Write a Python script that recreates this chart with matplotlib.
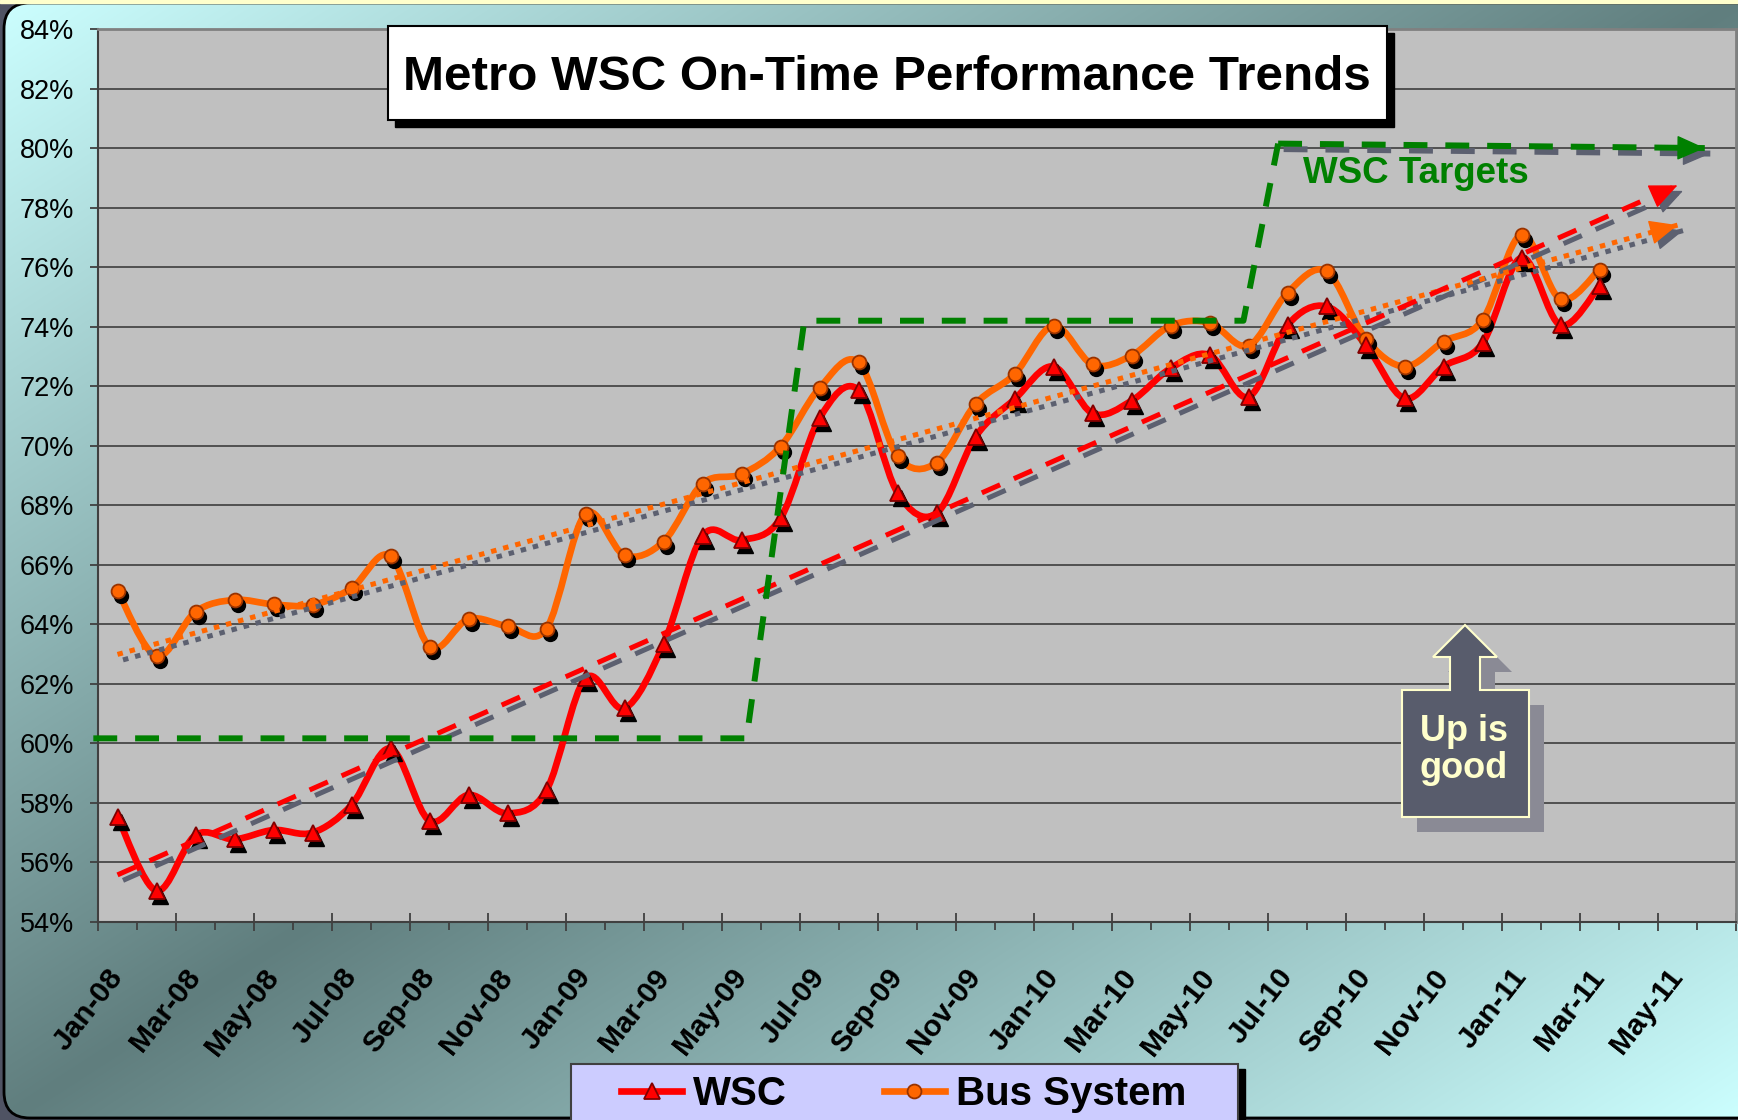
import numpy as np
import matplotlib
matplotlib.use("Agg")
import matplotlib.pyplot as plt
from matplotlib.path import Path
from matplotlib.patches import PathPatch, FancyBboxPatch, Rectangle, Polygon, FancyArrowPatch
from matplotlib.lines import Line2D
from matplotlib.transforms import offset_copy
from matplotlib.font_manager import FontProperties, fontManager

# ---------------- data ----------------
months = ["Jan-08", "Feb-08", "Mar-08", "Apr-08", "May-08", "Jun-08", "Jul-08", "Aug-08",
          "Sep-08", "Oct-08", "Nov-08", "Dec-08",
          "Jan-09", "Feb-09", "Mar-09", "Apr-09", "May-09", "Jun-09", "Jul-09", "Aug-09",
          "Sep-09", "Oct-09", "Nov-09", "Dec-09",
          "Jan-10", "Feb-10", "Mar-10", "Apr-10", "May-10", "Jun-10", "Jul-10", "Aug-10",
          "Sep-10", "Oct-10", "Nov-10", "Dec-10",
          "Jan-11", "Feb-11", "Mar-11"]
wsc = [57.54, 55.05, 56.92, 56.78, 57.09, 57.00, 57.93, 59.83, 57.40, 58.27, 57.65, 58.43,
       62.19, 61.18, 63.33, 66.97, 66.83, 67.56, 70.92, 71.87, 68.42, 67.73, 70.30, 71.56,
       72.66, 71.09, 71.51, 72.60, 73.05, 71.64, 74.05, 74.68, 73.40, 71.59, 72.66, 73.44,
       76.32, 74.05, 75.36]
bus = [65.13, 62.93, 64.42, 64.82, 64.67, 64.65, 65.21, 66.29, 63.25, 64.18, 63.94, 63.86,
       67.71, 66.32, 66.78, 68.73, 69.05, 69.97, 71.94, 72.80, 69.65, 69.43, 71.40, 72.40,
       74.03, 72.73, 73.03, 74.03, 74.13, 73.36, 75.14, 75.86, 73.60, 72.66, 73.50, 74.22,
       77.09, 74.92, 75.92]
axis_labels = ["Jan-08", "Mar-08", "May-08", "Jul-08", "Sep-08", "Nov-08",
               "Jan-09", "Mar-09", "May-09", "Jul-09", "Sep-09", "Nov-09",
               "Jan-10", "Mar-10", "May-10", "Jul-10", "Sep-10", "Nov-10",
               "Jan-11", "Mar-11", "May-11"]
n_categories = 42
y_ticks = [54, 56, 58, 60, 62, 64, 66, 68, 70, 72, 74, 76, 78, 80, 82, 84]
# WSC target step line (category position, percent)
target_x = [-0.12, 16.63, 18.11, 29.37, 30.26, 41.2]
target_y = [60.17, 60.17, 74.20, 74.20, 80.15, 80.00]
forecast_periods = 2
series_names = ["WSC", "Bus System"]
title = "Metro WSC On-Time Performance Trends"

# ---------------- figure ----------------
W, H = 1738, 1120
fig = plt.figure(figsize=(W / 100, H / 100), dpi=100)
fig.patch.set_facecolor("#4F5363")
renderer = fig.canvas.get_renderer()

avail = {f.name for f in fontManager.ttflist}
def pick(*names):
    for n in names:
        if n in avail:
            return n
    return "DejaVu Sans"
ARIAL = pick("Liberation Sans", "Arial", "DejaVu Sans")
NARROW = pick("Liberation Sans Narrow", "Arial Narrow", ARIAL)

def px2fig(x, y):
    return x / W, 1 - y / H

# background gradient with rounded frame
bg = fig.add_axes([0, 0, 1, 1], zorder=-10)
bg.axis("off")
yy, xx = np.mgrid[0:H:4, 0:W:4]
u = xx / W + yy / H
t = np.clip(1 - np.abs(u - 1), 0, 1)
light = np.array([204, 255, 255]) / 255
dark = np.array([96, 126, 126]) / 255
img = light + (dark - light) * t[..., None]
im = bg.imshow(img, extent=[0, W, H, 0], interpolation="bilinear", aspect="auto")
frame = FancyBboxPatch((4, 3), W + 40, H - 5, boxstyle="round,pad=0,rounding_size=26",
                       fc="none", ec="black", lw=2)
bg.add_patch(frame)
im.set_clip_path(frame)
bg.add_patch(Rectangle((0, 0), W, 3, color="#FFFFCC"))
# legend box (frame drawn here, legend entries drawn by fig.legend)
bg.add_patch(Rectangle((578, 1069), 667, 80, color="black"))
bg.add_patch(Rectangle((571, 1064), 667, 80, fc="#CCCCFF", ec="#404040", lw=1.5))
bg.set_xlim(0, W)
bg.set_ylim(H, 0)

# main plot area
l, b = px2fig(98, 922)
r, tp = px2fig(1736, 29)
ax = fig.add_axes([l, b, r - l, tp - b], zorder=0)
ax.set_facecolor("#C0C0C0")
ax.set_xlim(0, n_categories)
ax.set_ylim(y_ticks[0], y_ticks[-1])
ax.set_axisbelow(True)
ax.yaxis.grid(True, color="#333333", lw=1.1)

for s in ["left", "bottom"]:
    ax.spines[s].set_color("#404040")
    ax.spines[s].set_linewidth(1.5)
for s in ["top", "right"]:
    ax.spines[s].set_color("#808080")
    ax.spines[s].set_linewidth(2)

ax.set_xticks(range(0, n_categories + 1, 2))
ax.set_xticks(range(1, n_categories, 2), minor=True)
ax.tick_params(axis="x", which="major", direction="inout", length=13, width=1.3,
               color="#404040", labelbottom=False)
ax.tick_params(axis="x", which="minor", direction="out", length=5.8, width=1.3, color="#404040")
ax.set_yticks(y_ticks, [f"{v}%" for v in y_ticks])
ax.tick_params(axis="y", direction="out", length=5.8, width=1.3, color="#404040",
               pad=11.5, labelsize=19.5)
for lab in ax.get_yticklabels():
    lab.set_fontfamily(ARIAL)

# rotated month labels anchored at each labelled category centre
sec = ax.secondary_xaxis("bottom")
sec.set_xticks([i + 0.5 for i in range(0, 2 * len(axis_labels), 2)], axis_labels)
sec.tick_params(length=0, pad=36)
sec.spines["bottom"].set_visible(False)
for lab in sec.get_xticklabels():
    lab.set(rotation=52, ha="right", va="center", rotation_mode="anchor",
            fontweight="bold", fontsize=21.5, fontfamily=ARIAL)

xi = np.arange(len(months))
xc = xi + 0.5

def smooth_path(xs, ys):
    pts = np.column_stack([xs, ys])
    n = len(pts)
    verts = [pts[0]]
    codes = [Path.MOVETO]
    for i in range(n - 1):
        p0 = pts[i - 1] if i > 0 else pts[i]
        p1, p2 = pts[i], pts[i + 1]
        p3 = pts[i + 2] if i + 2 < n else pts[i + 1]
        verts += [p1 + (p2 - p0) / 6, p2 - (p3 - p1) / 6, p2]
        codes += [Path.CURVE4] * 3
    return Path(verts, codes)

RED, ORANGE, GREEN, SHADOW = "#FF0000", "#FF6600", "#008000", "#5C6070"
mk_shadow = offset_copy(ax.transData, fig=fig, x=3, y=-5, units="dots")
ln_shadow = offset_copy(ax.transData, fig=fig, x=5.5, y=-5.5, units="dots")

for vals, col, mk, ms, mec in [(bus, ORANGE, "o", 10, "#993300"), (wsc, RED, "^", 11, "#800000")]:
    ax.add_patch(PathPatch(smooth_path(xc, vals), fill=False, ec=col, lw=4.8,
                           capstyle="round", joinstyle="round", zorder=3))
    ax.plot(xc, vals, ls="none", marker=mk, ms=ms, color="black", transform=mk_shadow, zorder=3.5)
    ax.plot(xc, vals, ls="none", marker=mk, ms=ms, mfc=col, mec=mec, mew=1.3, zorder=4)

def arrow_head(x0, y0, x1, y1, color, transform, z):
    ax.add_patch(FancyArrowPatch((x0, y0), (x1, y1), transform=transform,
                                 arrowstyle="-|>,head_length=0.75,head_width=0.33",
                                 mutation_scale=24, color=color, lw=1, shrinkA=0, shrinkB=0,
                                 zorder=z, clip_on=False))

# linear trend lines with forward forecast
xt = np.array([0, len(months) - 1 + forecast_periods], dtype=float)
for vals, col, dashes in [(bus, ORANGE, (1.1, 1.4)), (wsc, RED, (4, 3))]:
    coef = np.polyfit(xi, vals, 1)
    yt = np.polyval(coef, xt)
    xa = xt[1] - 0.6
    ya = np.polyval(coef, xa)
    for tr, c, z in [(ln_shadow, SHADOW, 5), (ax.transData, col, 5.5)]:
        ax.plot(xt + 0.5, yt, color=c, lw=3.6, dashes=dashes, dash_capstyle="butt",
                transform=tr, zorder=z)
        arrow_head(xa + 0.5, ya, xt[1] + 0.5, yt[1], c, tr, z)

# WSC target step line
ax.plot(target_x[:5], target_y[:5], color=GREEN, lw=4.3, dashes=(4, 3), zorder=6, clip_on=False)
for tr, c, z in [(ln_shadow, SHADOW, 5.8), (ax.transData, GREEN, 6)]:
    ax.plot(target_x[4:], target_y[4:], color=c, lw=4.3, dashes=(4, 3), transform=tr, zorder=z)
    xa = target_x[5] - 0.6
    ya = target_y[4] + (target_y[5] - target_y[4]) * (xa - target_x[4]) / (target_x[5] - target_x[4])
    arrow_head(xa, ya, target_x[5], target_y[5], c, tr, z)

# legend
leg_size = 29
fpx = leg_size * 100 / 72
leg_fp = FontProperties(family=ARIAL, weight="bold", size=leg_size)
handles = [Line2D([], [], color=RED, lw=4.8, marker="^", ms=12, mfc=RED, mec="#800000", mew=1.3),
           Line2D([], [], color=ORANGE, lw=4.8, marker="o", ms=10, mfc=ORANGE, mec="#993300", mew=1.3)]
leg = fig.legend(handles, series_names, loc="center left", bbox_to_anchor=px2fig(621, 1094),
                 ncol=2, prop=leg_fp, frameon=False, borderaxespad=0, borderpad=0,
                 handlelength=61 / fpx, handletextpad=11 / fpx, columnspacing=97 / fpx)

# overlay: title box, annotations
ov = fig.add_axes([0, 0, 1, 1], zorder=10)
ov.axis("off")
ov.set_xlim(0, W)
ov.set_ylim(H, 0)
ov.add_patch(Rectangle((395, 33), 999, 94, color="black"))
ov.add_patch(Rectangle((388, 26), 999, 94, fc="white", ec="black", lw=1.5))
tt = ov.text(887, 78, title, ha="center", va="center", fontsize=40, fontweight="bold",
             fontfamily=NARROW)
wpx = tt.get_window_extent(renderer).width
tt.set_fontsize(40 * 966 / wpx)

ov.text(1303, 183, "WSC Targets", color=GREEN, fontsize=26.5, fontweight="bold",
        fontfamily=ARIAL, ha="left", va="baseline")

callout = [(1465, 625), (1497, 657), (1480, 657), (1480, 690), (1529, 690), (1529, 817),
           (1402, 817), (1402, 690), (1450, 690), (1450, 657), (1433, 657)]
ov.add_patch(Polygon([(x + 15, y + 15) for x, y in callout], closed=True, fc="#8A8A95", ec="none"))
ov.add_patch(Polygon(callout, closed=True, fc="#585C6C", ec="#FFFFCC", lw=1.5))
ov.text(1464, 750, "Up is\ngood", ha="center", va="center", color="#FFFFCC", fontsize=26,
        fontweight="bold", fontfamily=ARIAL, linespacing=1.05)

fig.savefig("out.png", dpi=100, facecolor=fig.get_facecolor())
